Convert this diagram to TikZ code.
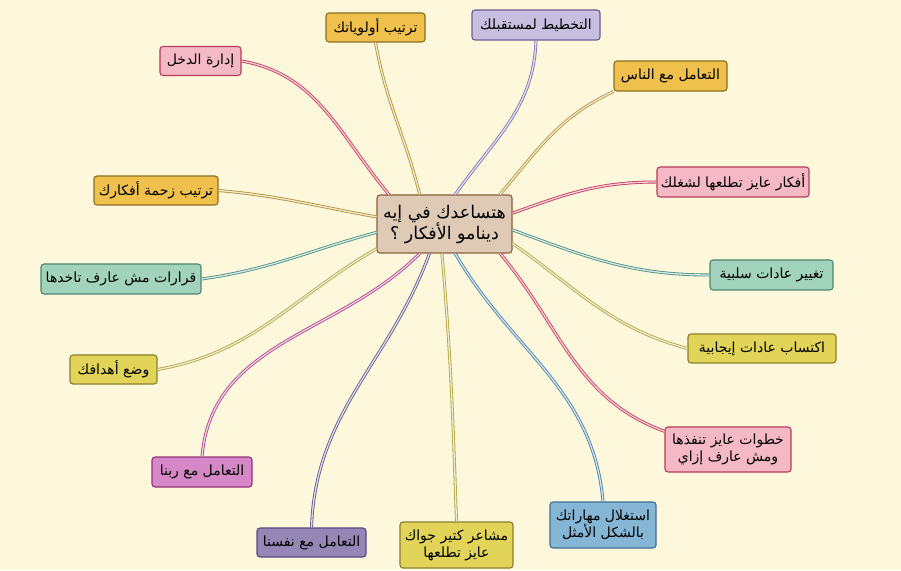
\documentclass[tikz,border=0pt]{standalone}
\usepackage{fontspec}
\newfontfamily\arabicfont[Script=Arabic]{DejaVu Sans}
\TeXXeTstate=1
\definecolor{bgcol}{HTML}{FDF8DC}
\definecolor{pinkF}{HTML}{F5B8C5}\definecolor{pinkD}{HTML}{B83A5A}\definecolor{pinkE}{HTML}{C8385C}
\definecolor{goldF}{HTML}{EFC04C}\definecolor{goldD}{HTML}{8C6C22}\definecolor{goldE}{HTML}{B8963A}
\definecolor{lilaF}{HTML}{C8BEDF}\definecolor{lilaD}{HTML}{6A5E90}\definecolor{lilaE}{HTML}{8474B4}
\definecolor{mintF}{HTML}{A2D3BC}\definecolor{mintD}{HTML}{4B876C}\definecolor{mintE}{HTML}{4E9484}
\definecolor{olivF}{HTML}{E2D458}\definecolor{olivD}{HTML}{8A7E2E}\definecolor{olivE}{HTML}{B4A844}
\definecolor{blueF}{HTML}{85B6D5}\definecolor{blueD}{HTML}{3E6E92}\definecolor{blueE}{HTML}{4A82AA}
\definecolor{purpF}{HTML}{9686B6}\definecolor{purpD}{HTML}{5A4A7E}\definecolor{purpE}{HTML}{6A5A92}
\definecolor{magF}{HTML}{D687C6}\definecolor{magD}{HTML}{94327A}\definecolor{magE}{HTML}{B0408E}
\definecolor{hubF}{HTML}{DFCAB6}\definecolor{hubD}{HTML}{8A5C3A}
\tikzset{
  box/.style={draw,rounded corners=3pt,line width=1.1pt,inner sep=2pt,align=center,
    font=\arabicfont\fontsize{14}{17}\selectfont},
  hub/.style={box,fill=hubF,draw=hubD,minimum width=135pt,minimum height=58pt,
    font=\arabicfont\fontsize{17.5}{21}\selectfont},
  wire/.style={line width=0.85pt,double distance=1.3pt}
}
\newcommand{\ar}[1]{\beginR #1\endR}
\newcommand{\bnode}[7]{\node[box,fill=#4,draw=#5,minimum width=#6,minimum height=#7] (#1) at (#2) {#3};}
\newcommand{\bedge}[5]{\draw[wire,draw=#3,double=#3!22!white] (#1) to[out=#4,in=#5] (#2);}
\begin{document}
\begin{tikzpicture}[x=1pt,y=1pt]
	\fill[bgcol] (0,0) rectangle (901,570); \useasboundingbox (0,0) rectangle (901,570);
	\node[hub] (hub) at (444.5,346) {\ar{هتساعدك في إيه}\\\ar{دينامو الأفكار ؟}};
	% top half
	\bnode{idara}{200.5,509}{\ar{إدارة الدخل}}{pinkF}{pinkD}{81pt}{29pt}
	\bnode{awla}{375.5,542.5}{\ar{ترتيب أولوياتك}}{goldF}{goldD}{99pt}{29pt}
	\bnode{takh}{536,545}{\ar{التخطيط لمستقبلك}}{lilaF}{lilaD}{128pt}{30pt}
	\bnode{nas}{670.5,494}{\ar{التعامل مع الناس}}{goldF}{goldD}{113pt}{30pt}
	\bnode{afkar}{733,388}{\ar{أفكار عايز تطلعها لشغلك}}{pinkF}{pinkD}{152pt}{30pt}
	\bnode{zahma}{156,379.5}{\ar{ترتيب زحمة أفكارك}}{goldF}{goldD}{124pt}{29pt}
	\bnode{qarar}{121,291}{\ar{قرارات مش عارف تاخدها}}{mintF}{mintD}{160pt}{30pt}
	\bnode{salb}{771.5,295}{\ar{تغيير عادات سلبية}}{mintF}{mintD}{123pt}{30pt}
	% bottom half
	\bnode{ijab}{762,221.5}{\ar{اكتساب عادات إيجابية}}{olivF}{olivD}{148pt}{29pt}
	\bnode{ahdaf}{113.5,200.5}{\ar{وضع أهدافك}}{olivF}{olivD}{87pt}{29pt}
	\bnode{khut}{728,120.5}{\ar{خطوات عايز تنفذها}\\\ar{ومش عارف إزاي}}{pinkF}{pinkD}{126pt}{45pt}
	\bnode{rabb}{202,98}{\ar{التعامل مع ربنا}}{magF}{magD}{100pt}{30pt}
	\bnode{mahar}{603,45}{\ar{استغلال مهاراتك}\\\ar{بالشكل الأمثل}}{blueF}{blueD}{106pt}{46pt}
	\bnode{mashaer}{456.5,25}{\ar{مشاعر كتير جواك}\\\ar{عايز تطلعها}}{olivF}{olivD}{113pt}{46pt}
	\bnode{nafs}{311.5,27.5}{\ar{التعامل مع نفسنا}}{purpF}{purpD}{109pt}{29pt}
	\bedge{idara.east}{hub.152}{pinkE}{-10}{130} \bedge{awla.south}{hub.130}{goldE}{-80}{104}
	\bedge{takh.south}{hub.70}{lilaE}{-92}{55} \bedge{nas.south west}{hub.28}{goldE}{-155}{50}
	\bedge{afkar.west}{hub.9}{pinkE}{180}{20} \bedge{salb.west}{hub.-5}{mintE}{180}{-20}
	\bedge{ijab.west}{hub.-16}{olivE}{165}{-35} \bedge{khut.164}{hub.-28}{pinkE}{160}{-50}
	\bedge{mahar.north}{hub.-70}{blueE}{95}{-60} \bedge{mashaer.north}{hub.-95}{olivE}{92}{-85}
	\bedge{nafs.north}{hub.-117}{purpE}{88}{-110} \bedge{rabb.north}{hub.-130}{magE}{85}{-135}
	\bedge{ahdaf.east}{hub.200}{olivE}{10}{-150} \bedge{qarar.east}{hub.187}{mintE}{8}{-165}
	\bedge{zahma.east}{hub.174}{goldE}{-5}{170}
\end{tikzpicture}
\end{document}
